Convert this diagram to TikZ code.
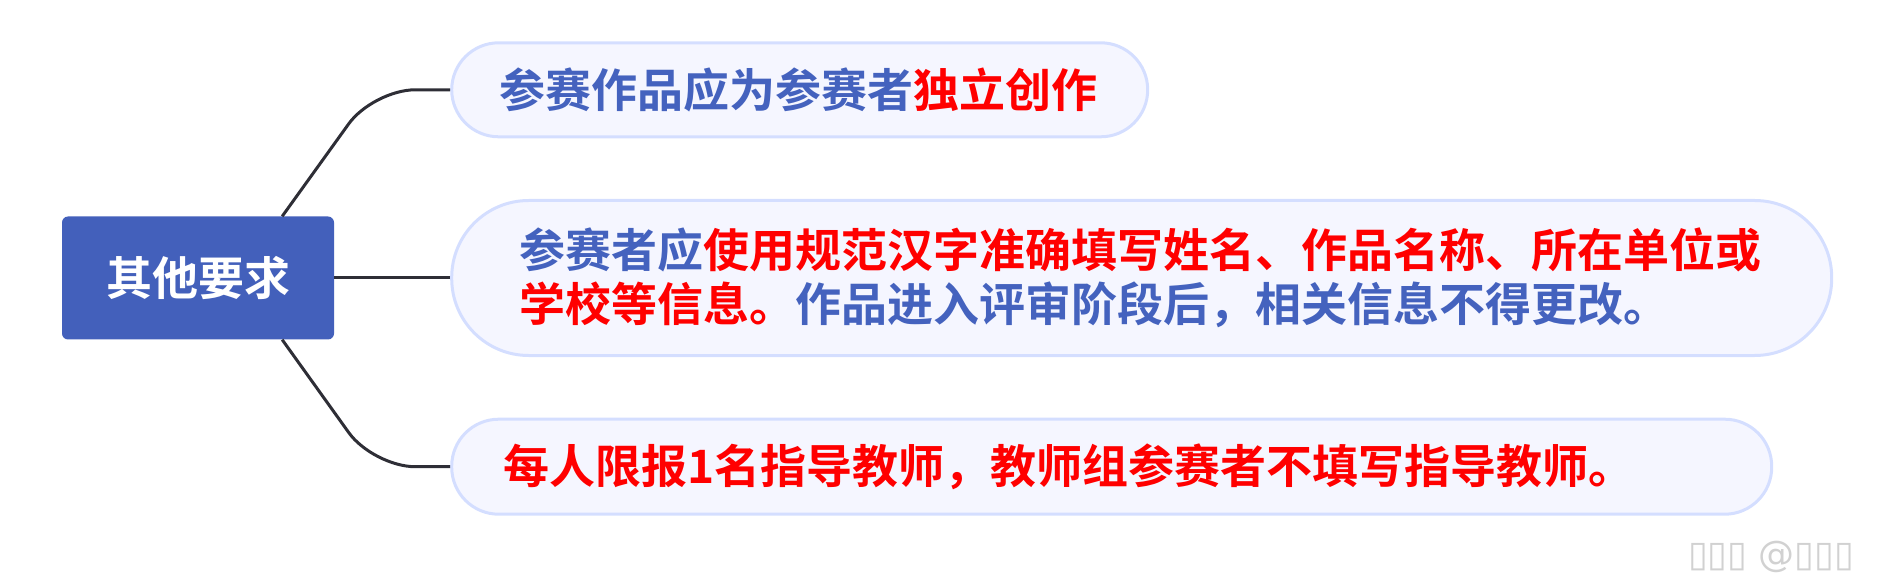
\documentclass[tikz,border=0pt]{standalone}
\usepackage{fontspec}
\newfontfamily\cjk{Noto Sans CJK SC Bold}
\newfontfamily\wmfont{DejaVu Sans}
\usetikzlibrary{positioning}

\definecolor{rootblue}{RGB}{67,96,187}
\definecolor{txtblue}{RGB}{68,98,190}
\definecolor{txtred}{RGB}{255,0,0}
\definecolor{pillline}{RGB}{212,222,255}
\definecolor{pillfill}{RGB}{245,246,255}
\definecolor{linkgray}{RGB}{46,46,54}

\newcommand{\bl}[1]{\textcolor{txtblue}{#1}}
\newcommand{\rd}[1]{\textcolor{txtred}{#1}}

\begin{document}
\begin{tikzpicture}[x=1pt,y=1pt,
    topic/.style={rectangle, rounded corners=6pt, fill=rootblue, text=white,
      minimum width=272pt, minimum height=123pt, inner sep=0pt,
      font=\cjk\fontsize{46pt}{54pt}\selectfont},
    pill/.style={rectangle, draw=pillline, fill=pillfill, line width=3pt,
      align=left, font=\cjk\fontsize{46pt}{54pt}\selectfont, inner ysep=0pt},
    link/.style={draw=linkgray, line width=3pt, rounded corners=42pt}]
  \useasboundingbox (0,0) rectangle (1882,579);

  \node[topic] (root) at (198,301) {其他要求};
  \node[pill, rounded corners=47pt, minimum height=94pt, inner xsep=48pt,
        text width=600pt, above right=78pt and 116pt of root] (b1)
        {\bl{参赛作品应为参赛者}\rd{独立创作}};
  \node[pill, rounded corners=77pt, minimum height=155pt, inner xsep=68pt,
        text width=1244pt, right=116pt of root] (b2)
        {\bl{参赛者应}\rd{使用规范汉字准确填写姓名、作品名称、所在单位或}\\
         \rd{学校等信息。}\bl{作品进入评审阶段后，相关信息不得更改。}};
  \node[pill, rounded corners=47pt, minimum height=95pt, inner xsep=52pt,
        text width=1216pt, below right=78pt and 116pt of root] (b3)
        {\rd{每人限报1名指导教师，教师组参赛者不填写指导教师。}};

  \draw[link] ([xshift=-52pt]root.north east) -- ([xshift=-77pt]b1.west) -- (b1.west);
  \draw[link] (root.east) -- (b2.west);
  \draw[link] ([xshift=-52pt]root.south east) -- ([xshift=-77pt]b3.west) -- (b3.west);

  \node[text=black!18, font=\wmfont\fontsize{36pt}{36pt}\selectfont, anchor=east]
    (mark) at (1858,22) {▯▯▯ @▯▯▯};
\end{tikzpicture}
\end{document}
